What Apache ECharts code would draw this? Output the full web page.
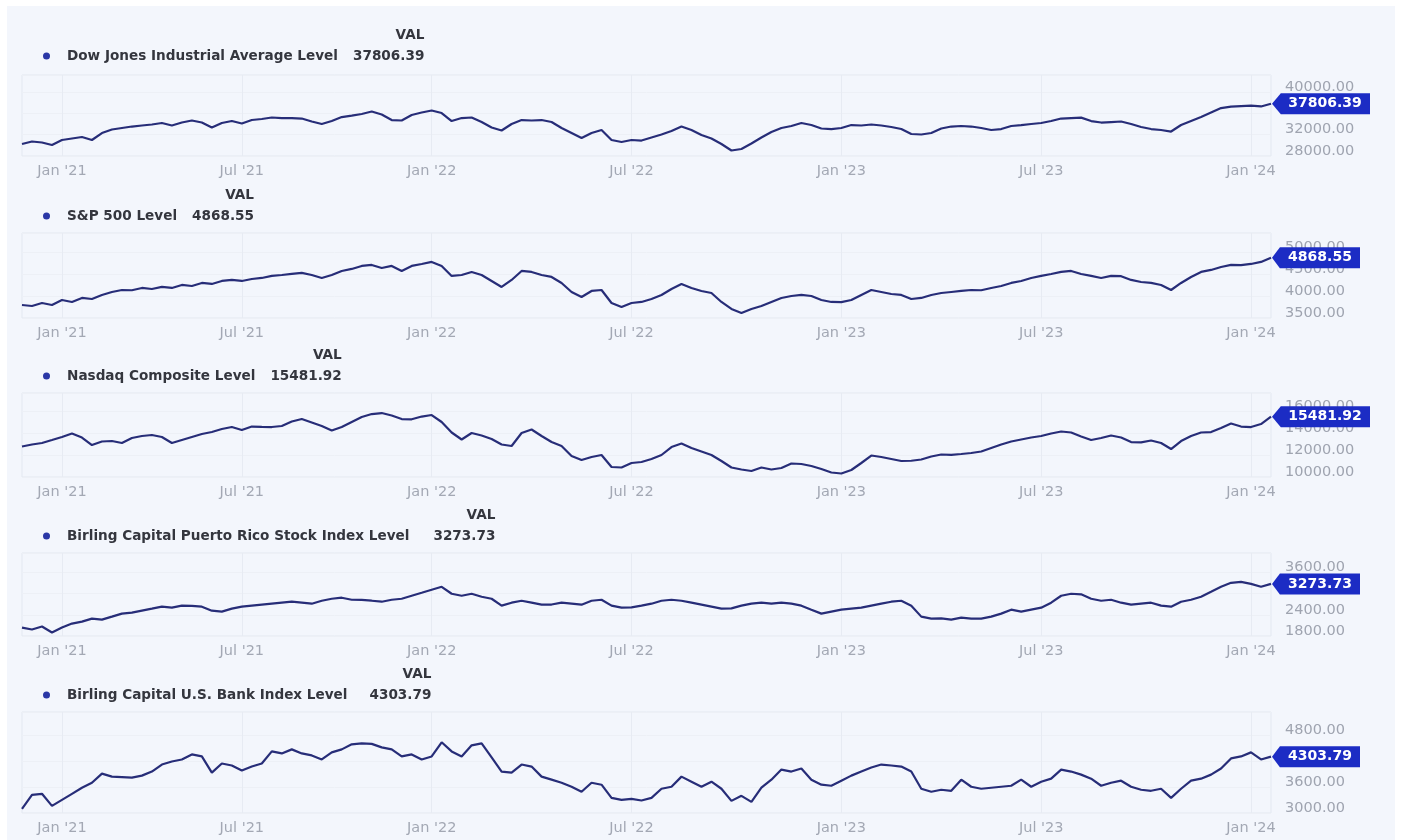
<!DOCTYPE html>
<html>
<head>
<meta charset="utf-8">
<title>Index levels</title>
<script src="https://cdn.jsdelivr.net/npm/echarts@6/dist/echarts.min.js"></script>
<style>
  html, body { margin: 0; padding: 0; background: #ffffff; }
  #bg { position: absolute; left: 7px; top: 6px; width: 1388px; height: 834px; background: #f3f6fc; }
  #chart { position: absolute; left: 0; top: 0; width: 1414px; height: 840px; }
</style>
</head>
<body>
<div id="bg"></div>
<div id="chart"></div>
<script>
// x axis: one point per ~week, labels only at these indices
const xTickIndex = [4, 22, 41, 61, 82, 102, 123];
const xTickLabels = ["Jan '21", "Jul '21", "Jan '22", "Jul '22", "Jan '23", "Jul '23", "Jan '24"];

const seriesNames = [
  "Dow Jones Industrial Average Level",
  "S&P 500 Level",
  "Nasdaq Composite Level",
  "Birling Capital Puerto Rico Stock Index Level",
  "Birling Capital U.S. Bank Index Level"
];
const lastValues = [37806.39, 4868.55, 15481.92, 3273.73, 4303.79];

// y axis ticks per panel
const yMin = [28000, 3500, 10000, 1800, 3000];
const yMax = [43200, 5430, 17640, 4148, 5338];
const yStep = [4000, 500, 2000, 600, 600];

const dowLevels = [
  30250, 30720, 30530, 30060, 31000, 31280, 31560, 31000, 32310, 32970,
  33250, 33530, 33720, 33910, 34190, 33720, 34280, 34660, 34280, 33340,
  34190, 34560, 34090, 34750, 34940, 35220, 35100, 35125, 35030, 34470,
  34000, 34560, 35310, 35590, 35880, 36340, 35780, 34750, 34660, 35690,
  36160, 36530, 36060, 34560, 35125, 35220, 34375, 33340, 32780, 34000,
  34750, 34660, 34750, 34375, 33250, 32310, 31375, 32310, 32875, 31000,
  30625, 31000, 30900, 31470, 32030, 32690, 33530, 32875, 31940, 31280,
  30250, 29030, 29310, 30340, 31470, 32500, 33250, 33625, 34190, 33810,
  33160, 33060, 33250, 33810, 33720, 33910, 33720, 33440, 33060, 32125,
  32030, 32310, 33160, 33530, 33625, 33530, 33250, 32875, 33060, 33625,
  33810, 34000, 34190, 34560, 35030, 35125, 35200, 34560, 34280, 34375,
  34470, 34000, 33440, 33060, 32875, 32590, 33810, 34560, 35310, 36160,
  37000, 37280, 37375, 37450, 37300, 37806.39
];

const spxLevels = [
  3795, 3773, 3841, 3795, 3909, 3864, 3955, 3932, 4023, 4091,
  4136, 4130, 4182, 4159, 4205, 4182, 4250, 4227, 4296, 4273,
  4341, 4364, 4341, 4386, 4409, 4455, 4477, 4500, 4523, 4477,
  4409, 4477, 4568, 4614, 4682, 4705, 4636, 4682, 4568, 4682,
  4727, 4773, 4682, 4455, 4477, 4546, 4477, 4341, 4205, 4364,
  4568, 4546, 4477, 4432, 4296, 4091, 3977, 4114, 4136, 3841,
  3750, 3841, 3864, 3932, 4023, 4159, 4273, 4182, 4114, 4068,
  3864, 3705, 3614, 3705, 3773, 3864, 3955, 4000, 4023, 4000,
  3909, 3864, 3860, 3909, 4023, 4136, 4091, 4045, 4023, 3932,
  3955, 4023, 4068, 4091, 4114, 4136, 4130, 4182, 4227, 4296,
  4341, 4409, 4455, 4500, 4546, 4568, 4500, 4455, 4409, 4455,
  4450, 4364, 4318, 4296, 4250, 4136, 4296, 4432, 4546, 4591,
  4659, 4705, 4700, 4727, 4773, 4868.55
];

const nasdaqLevels = [
  12772, 12954, 13091, 13363, 13636, 13954, 13591, 12909, 13227, 13272,
  13091, 13545, 13727, 13818, 13636, 13091, 13363, 13636, 13909, 14090,
  14363, 14545, 14272, 14590, 14560, 14545, 14636, 15045, 15272, 14954,
  14636, 14227, 14545, 15000, 15454, 15727, 15818, 15590, 15272, 15250,
  15499, 15636, 15000, 14045, 13409, 14000, 13772, 13454, 12954, 12818,
  14000, 14318, 13727, 13181, 12818, 11909, 11545, 11818, 12000, 10909,
  10864, 11273, 11364, 11636, 12000, 12727, 13045, 12636, 12318, 12000,
  11454, 10864, 10682, 10545, 10864, 10682, 10818, 11227, 11182, 11000,
  10727, 10409, 10318, 10636, 11273, 11954, 11818, 11636, 11454, 11480,
  11591, 11863, 12045, 12020, 12091, 12182, 12318, 12636, 12954, 13227,
  13409, 13591, 13727, 13954, 14136, 14045, 13681, 13363, 13545, 13772,
  13591, 13181, 13150, 13318, 13091, 12545, 13272, 13727, 14045, 14090,
  14454, 14863, 14590, 14545, 14818, 15481.92
];

const prLevels = [
  2039, 1983, 2067, 1898, 2039, 2151, 2208, 2292, 2264, 2348,
  2433, 2461, 2517, 2573, 2630, 2601, 2658, 2650, 2630, 2517,
  2489, 2573, 2630, 2658, 2686, 2714, 2742, 2770, 2742, 2714,
  2798, 2854, 2883, 2826, 2820, 2798, 2770, 2826, 2854, 2939,
  3023, 3108, 3192, 2995, 2939, 2995, 2911, 2854, 2658, 2742,
  2798, 2742, 2686, 2690, 2742, 2714, 2686, 2798, 2826, 2658,
  2601, 2610, 2658, 2714, 2798, 2826, 2798, 2742, 2686, 2630,
  2573, 2580, 2658, 2714, 2742, 2714, 2742, 2714, 2658, 2545,
  2433, 2489, 2545, 2573, 2601, 2658, 2714, 2770, 2798, 2658,
  2348, 2292, 2300, 2264, 2320, 2292, 2290, 2348, 2433, 2545,
  2489, 2545, 2601, 2742, 2939, 2995, 2980, 2854, 2798, 2826,
  2742, 2686, 2714, 2742, 2658, 2630, 2770, 2826, 2911, 3051,
  3192, 3304, 3333, 3276, 3192, 3273.73
];

const bankLevels = [
  3094, 3421, 3444, 3164, 3304, 3444, 3585, 3701, 3912, 3842,
  3830, 3818, 3865, 3959, 4122, 4192, 4239, 4356, 4309, 3935,
  4146, 4099, 3982, 4075, 4146, 4426, 4379, 4473, 4379, 4333,
  4239, 4403, 4473, 4590, 4613, 4600, 4520, 4473, 4309, 4356,
  4239, 4309, 4637, 4426, 4309, 4566, 4613, 4286, 3959, 3935,
  4122, 4075, 3842, 3772, 3701, 3608, 3491, 3701, 3655, 3351,
  3304, 3327, 3290, 3351, 3561, 3608, 3842, 3725, 3608, 3725,
  3561, 3281, 3397, 3257, 3585, 3772, 4005, 3959, 4029, 3772,
  3655, 3631, 3748, 3865, 3959, 4052, 4122, 4099, 4075, 3959,
  3561, 3491, 3538, 3514, 3772, 3608, 3561, 3585, 3608, 3631,
  3772, 3608, 3725, 3795, 4005, 3959, 3888, 3795, 3631, 3701,
  3748, 3608, 3538, 3514, 3561, 3351, 3561, 3748, 3795, 3888,
  4029, 4263, 4309, 4403, 4239, 4303.79
];

const levels = [dowLevels, spxLevels, nasdaqLevels, prLevels, bankLevels];

// layout of the five stacked panels (pixels)
const legendMid = [56, 216, 376, 536, 695];
const gridTop = [75, 233, 393, 553, 712];
const gridBottom = [156, 318, 477, 636, 813];
const nameGap = [15, 15, 15, 24, 22];

const FONT = '"DejaVu Sans", Verdana, sans-serif';
const LEGEND_FONT = 'bold 13.6px ' + FONT;
const TAG_FONT = 'bold 14px ' + FONT;
const LINE = '#272d78';
const TAG = '#1c2cc4';
const TEXT = '#34363e';

const measureCtx = document.createElement('canvas').getContext('2d');
function textWidth(str, font) {
  measureCtx.font = font;
  return measureCtx.measureText(str).width;
}

const pointIdx = dowLevels.map((v, i) => i);
const isTick = (i) => xTickIndex.indexOf(i) >= 0;

const chart = echarts.init(document.getElementById('chart'));

const grids = [], xAxes = [], yAxes = [], legends = [], series = [], texts = [];

levels.forEach((data, k) => {
  const last = lastValues[k];
  const valueText = last.toFixed(2);
  const tagW = Math.round(textWidth(valueText, TAG_FONT)) + 24;

  grids.push({
    left: 22, right: 143,
    top: gridTop[k],
    height: gridBottom[k] - gridTop[k],
    show: true,
    borderColor: '#e3e8f1',
    borderWidth: 1,
    backgroundColor: 'transparent',
    outerBoundsMode: 'none'
  });

  xAxes.push({
    gridIndex: k,
    type: 'category',
    data: pointIdx,
    boundaryGap: false,
    axisLine: { show: false },
    axisTick: { show: false },
    axisLabel: {
      interval: (i) => isTick(i),
      formatter: (v, i) => xTickLabels[xTickIndex.indexOf(i)],
      color: '#a3a8b4',
      fontFamily: FONT,
      fontSize: 14.5,
      margin: 8
    },
    splitLine: {
      show: true,
      interval: (i) => isTick(i),
      lineStyle: { color: '#e7ebf3', width: 1 }
    }
  });

  yAxes.push({
    gridIndex: k,
    type: 'value',
    position: 'right',
    min: yMin[k],
    max: yMax[k],
    interval: yStep[k],
    axisLine: { show: false },
    axisTick: { show: false },
    splitLine: { lineStyle: { color: '#edf0f6' } },
    axisLabel: {
      formatter: (v) => v.toFixed(2),
      showMaxLabel: false,
      color: '#9fa4b0',
      fontFamily: FONT,
      fontSize: 14.5,
      lineHeight: 10,
      margin: 14,
      verticalAlign: 'bottom'
    }
  });

  legends.push({
    data: [seriesNames[k]],
    left: 43,
    top: legendMid[k] - 7,
    padding: 0,
    icon: 'circle',
    itemWidth: 7,
    itemHeight: 7,
    selectedMode: false,
    formatter: (name) => '{n|' + name + '}{v|' + valueText + '}',
    textStyle: {
      rich: {
        n: { fontFamily: FONT, fontSize: 13.6, fontWeight: 'bold', color: TEXT, padding: [0, 0, 0, 12] },
        v: { fontFamily: FONT, fontSize: 13.6, fontWeight: 'bold', color: TEXT, padding: [0, 0, 0, nameGap[k]] }
      }
    }
  });

  // "VAL" header sits right-aligned over the value column
  const valRight = 43 + 7 + 5 + 12 + textWidth(seriesNames[k], LEGEND_FONT) + nameGap[k] + textWidth(valueText, LEGEND_FONT);
  texts.push({
    type: 'text',
    x: valRight,
    y: legendMid[k] - 21,
    style: {
      text: 'VAL',
      fill: TEXT,
      font: LEGEND_FONT,
      align: 'right',
      verticalAlign: 'middle'
    }
  });

  series.push({
    name: seriesNames[k],
    type: 'line',
    xAxisIndex: k,
    yAxisIndex: k,
    data: data,
    showSymbol: false,
    symbol: 'none',
    lineStyle: { width: 2.2, color: LINE },
    itemStyle: { color: '#2a37a6' },
    markPoint: {
      silent: true,
      symbol: 'path://M0,10 L9,0 L100,0 L100,20 L9,20 Z',
      symbolSize: [tagW, 21],
      symbolKeepAspect: false,
      symbolOffset: [tagW / 2 + 1, 0],
      itemStyle: { color: TAG },
      label: {
        show: true,
        position: 'inside',
        offset: [4, 0],
        color: '#ffffff',
        fontFamily: FONT,
        fontWeight: 'bold',
        fontSize: 14,
        formatter: () => valueText
      },
      data: [{ coord: [data.length - 1, last], value: last }]
    }
  });
});

chart.setOption({
  animation: false,
  backgroundColor: 'transparent',
  grid: grids,
  xAxis: xAxes,
  yAxis: yAxes,
  legend: legends,
  graphic: texts,
  series: series
});
</script>
</body>
</html>
